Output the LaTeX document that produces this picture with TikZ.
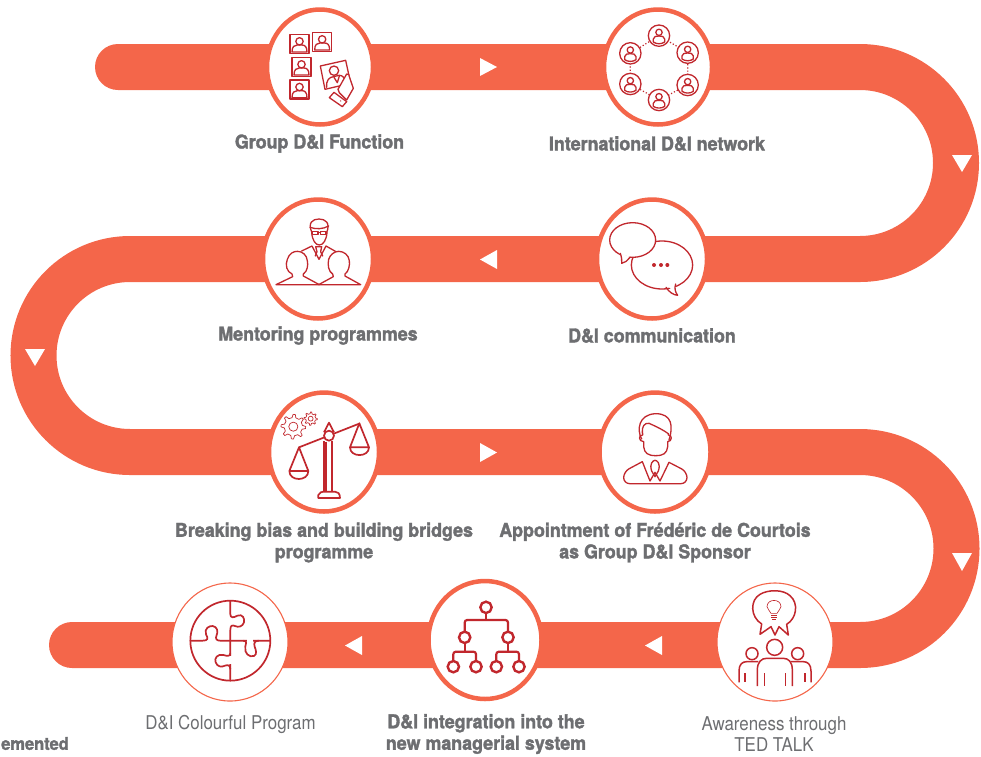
\documentclass[tikz,border=0pt]{standalone}
\usepackage{fontspec}
\usetikzlibrary{shapes.geometric}
\newfontfamily\hvy[FakeStretch=0.94,BoldFeatures={FakeBold=1.8}]{TeX Gyre Heros}
\newfontfamily\lite[FakeStretch=0.89]{TeX Gyre Heros}
\definecolor{band}{HTML}{F4664A}
\definecolor{icon}{HTML}{C1272D}
\definecolor{txt}{HTML}{6D6E71}
\tikzset{
  bandline/.style={draw=band,line width=46pt},
  thick ring/.style={ellipse,draw=band,line width=4.5pt,fill=white,inner sep=0pt},
  thin ring/.style={ellipse,draw=band,line width=1.1pt,fill=white,inner sep=0pt},
  heavy/.style={text=txt,font=\hvy\bfseries\fontsize{19}{21.5}\selectfont,align=center},
  light/.style={text=txt,font=\lite\fontsize{19}{21.5}\selectfont,align=center},
  ic/.style={draw=icon,line width=1.3pt,line join=round,line cap=round},
  icthin/.style={draw=icon,line width=.7pt,line join=round},
  icthick/.style={draw=icon,line width=2.2pt,line join=round,rounded corners=2.5pt},
  zoomed/.style={x=0.3333pt,y=-0.3333pt},
  arrowtip/.style={fill=white,draw=none}
}
\newcommand{\portrait}[2]{%
  \begin{scope}[shift={(#1,#2)}]
  \draw[ic] (0,0) rectangle (57,57);
  \draw[ic] (28.5,21) circle[x radius=11,y radius=11];
  \draw[ic] (6,53) .. controls (6,36) and (14,32) .. (22,32) -- (35,32) .. controls (44,32) and (51,36) .. (51,53) -- cycle;
  \end{scope}}
\newcommand{\netperson}[2]{%
  \begin{scope}[shift={(#1,#2)}]
  \draw[ic,fill=white] (0,0) circle[radius=32];
  \draw[ic] (0,-10) circle[radius=9.5];
  \draw[ic] (-17,19) -- (-17,10) .. controls (-17,2) and (-8,1) .. (0,1) .. controls (8,1) and (17,2) .. (17,10) -- (17,19) .. controls (8,26) and (-8,26) .. (-17,19);
  \end{scope}}
\newcommand{\gearshape}[4]{% x y outer teeth
  \begin{scope}[shift={(#1,#2)}]
  \pgfmathsetmacro{\st}{360/#4}
  \pgfmathsetmacro{\inr}{#3*0.74}
  \draw[icthin] (0:#3)
  \foreach \a in {1,...,#4}{
    -- ({(\a-1)*\st+\st*.2}:#3) -- ({(\a-1)*\st+\st*.36}:\inr) -- ({(\a-1)*\st+\st*.82}:\inr) -- ({\a*\st-\st*.02}:#3)
  } -- cycle;
  \draw[icthin] (0,0) circle[radius=#3*.37];
  \end{scope}}
\newcommand{\orgbox}[2]{\draw[icon,line width=2.4pt,fill=white] (#1,#2) circle[radius=17];}
\begin{document}
\begin{tikzpicture}[x=1pt,y=-1pt]
\useasboundingbox (0,0) rectangle (981,756);
% winding band
\draw[bandline,line cap=round] (118,67) -- (860,67)
  arc[start angle=-90,end angle=90,radius=96] -- (130,259)
  arc[start angle=-90,end angle=-270,radius=96.5] -- (860,452)
  arc[start angle=-90,end angle=90,radius=96.5] -- (72,645);
% direction triangles
\fill[arrowtip] (480,58) -- (497,67) -- (480,76) -- cycle;
\fill[arrowtip] (952,155) -- (972,155) -- (962,172) -- cycle;
\fill[arrowtip] (497,250) -- (480,259.5) -- (497,269) -- cycle;
\fill[arrowtip] (25,349) -- (45,349) -- (35,366) -- cycle;
\fill[arrowtip] (480,443) -- (497,452.5) -- (480,462) -- cycle;
\fill[arrowtip] (952,553) -- (972,553) -- (962,571) -- cycle;
\fill[arrowtip] (662,636) -- (645,645.5) -- (662,655) -- cycle;
\fill[arrowtip] (362,636) -- (345,645.5) -- (362,655) -- cycle;
% rings
\node[thick ring,minimum width=106pt,minimum height=115pt] (fn) at (320,67) {};
\node[thick ring,minimum width=108pt,minimum height=115pt] (net) at (658,67) {};
\node[thick ring,minimum width=110pt,minimum height=119pt] (ment) at (318,259) {};
\node[thick ring,minimum width=110pt,minimum height=119pt] (comm) at (652,259) {};
\node[thick ring,minimum width=110pt,minimum height=119pt] (bias) at (324,452) {};
\node[thick ring,minimum width=111pt,minimum height=119pt] (spons) at (655,452) {};
\node[thin ring,minimum width=116pt,minimum height=118pt] (puz) at (230,642) {};
\node[thick ring,minimum width=113pt,minimum height=118pt] (org) at (485,640) {};
\node[thin ring,minimum width=116pt,minimum height=118pt] (ted) at (775,642) {};
% icon 1
\begin{scope}[shift={(250,0)},zoomed]
\portrait{120}{103}\portrait{188}{97}\portrait{126}{172}\portrait{120}{240}
\draw[ic,fill=white] (211,198) -- (287,181) -- (302,250) -- (225,268) -- cycle;
\draw[ic] (252,212) circle[radius=14];
\draw[ic] (230,262) .. controls (228,240) and (238,232) .. (250,230) -- (268,226) .. controls (278,226) and (283,232) .. (288,250);
\draw[ic] (252,232) -- (262,248) -- (268,228);
\draw[ic,fill=white] (264,268) -- (290,222) .. controls (296,220) and (298,226) .. (298,230) -- (310,265) -- (290,300) -- (268,278) -- cycle;
\draw[ic,fill=white] (238,293) -- (252,277) -- (290,305) -- (277,320) -- cycle;
\fill[icon] (272,303) circle[radius=2];
\end{scope}
% icon 2
\begin{scope}[shift={(590,0)},zoomed]
\draw[icon,line width=1.2pt,dotted] (207,107) -- (293,158) -- (293,255) -- (207,300) -- (121,252) -- (121,160) -- cycle;
\netperson{207}{107}\netperson{293}{158}\netperson{293}{255}\netperson{207}{300}\netperson{121}{252}\netperson{121}{160}
\end{scope}
% icon 3
\begin{scope}[shift={(250,190)},zoomed]
\draw[ic] (186,128) .. controls (172,98) and (188,87) .. (207,87) .. controls (226,87) and (242,98) .. (230,128);
\draw[ic] (180,112) .. controls (198,118) and (218,118) .. (236,108);
\draw[ic] (185,128) .. controls (187,150) and (196,165) .. (208,165) .. controls (220,165) and (229,150) .. (231,128);
\draw[ic] (188,124) rectangle (204,134) (212,124) rectangle (228,134) (204,127) -- (212,127);
\draw[ic] (155,183) -- (186,168) -- (207,208) -- (228,168) -- (258,185);
\draw[ic] (197,170) -- (215,170) -- (212,185) -- (218,198) (197,170) -- (201,185) -- (196,198);
\draw[ic,fill=white] (78,284) -- (128,260) -- (126,252) .. controls (110,245) and (105,225) .. (112,208) .. controls (118,190) and (130,184) .. (142,184) .. controls (158,184) and (170,195) .. (172,212) .. controls (175,225) and (172,245) .. (160,252) -- (160,258) -- (208,284) -- cycle;
\draw[ic,fill=white] (206,284) -- (250,260) -- (248,252) .. controls (236,245) and (232,225) .. (236,208) .. controls (240,195) and (252,184) .. (266,184) .. controls (282,184) and (296,195) .. (298,212) .. controls (300,225) and (296,245) .. (285,252) -- (285,258) -- (332,284) -- cycle;
\end{scope}
% icon 4
\begin{scope}[shift={(585,190)},zoomed]
\draw[ic,fill=white] (231,225) ellipse[x radius=92,y radius=72];
\fill[white] (245,285) -- (277,315) -- (270,280) -- cycle;
\draw[ic] (243,292) .. controls (252,306) and (265,315) .. (278,316) .. controls (270,305) and (268,295) .. (272,282);
\draw[ic,fill=white] (143,150) ellipse[x radius=69,y radius=52];
\fill[white] (104,190) -- (112,220) -- (135,200) -- cycle;
\draw[ic] (106,190) .. controls (110,202) and (111,212) .. (110,220) .. controls (120,218) and (128,212) .. (134,203);
\fill[icon] (207,225) circle[radius=6] (228,225) circle[radius=6] (247,225) circle[radius=6];
\end{scope}
% icon 5
\begin{scope}[shift={(255,385)},zoomed]
\gearshape{115}{125}{37}{8}
\gearshape{167}{101}{20}{8}
\draw[icon,line width=1.7pt,line join=round] (132,187) -- (315,115);
\draw[icon,line width=1.7pt,line join=round,fill=white] (207,142) -- (222,113) -- (237,142);
\draw[icon,line width=1.7pt,fill=white] (222,152) circle[radius=15];
\draw[icon,line width=1.7pt] (207,168) -- (207,320) (214,170) -- (214,320) (232,168) -- (232,320);
\draw[icon,line width=1.7pt,line join=round] (190,339) -- (190,330) .. controls (195,322) and (200,320) .. (205,320) -- (240,320) .. controls (248,320) and (255,325) .. (255,339) -- cycle;
\draw[icon,line width=1.7pt,line join=round] (103,258) -- (132,187) -- (160,258) .. controls (160,290) and (103,290) .. (103,258) -- (160,258);
\draw[icon,line width=1.7pt,line join=round] (285,187) -- (313,115) -- (342,187) .. controls (342,218) and (285,218) .. (285,187) -- (342,187);
\end{scope}
% icon 6
\begin{scope}[shift={(585,385)},zoomed]
\draw[ic] (170,162) .. controls (155,135) and (160,88) .. (212,86) .. controls (262,86) and (265,125) .. (252,165);
\draw[ic] (172,145) .. controls (170,125) and (178,113) .. (192,115) .. controls (215,125) and (235,135) .. (250,146);
\draw[ic] (173,145) -- (173,150) .. controls (160,148) and (160,170) .. (176,170) -- (176,185) .. controls (178,205) and (190,212) .. (212,212) .. controls (235,212) and (246,205) .. (248,185) -- (248,170) .. controls (262,170) and (262,148) .. (250,150) -- (250,146);
\draw[ic,rounded corners=6pt] (172,230) -- (116,260) -- (116,296) -- (306,296) -- (306,260) -- (252,232);
\draw[ic] (172,230) -- (195,288) -- (210,262) -- (225,288) -- (252,232);
\draw[ic] (200,258) .. controls (192,235) and (205,226) .. (210,226) .. controls (216,226) and (228,235) .. (220,258) -- (210,275) -- cycle;
\end{scope}
% icon 7
\begin{scope}[shift={(160,575)},zoomed]
\draw[icon,line width=1.7pt] (211,197) circle[radius=120];
\draw[icon,line width=1.7pt,line join=round]
 (211,77) -- (211,118) .. controls (211,130) and (222,128) .. (232,122) .. controls (248,115) and (255,132) .. (252,142) .. controls (248,155) and (235,158) .. (225,153) .. controls (217,150) and (211,150) .. (211,165) -- (211,317);
\draw[icon,line width=1.7pt,line join=round]
 (91,197) -- (128,197) .. controls (145,197) and (145,190) .. (138,178) .. controls (132,160) and (148,152) .. (158,153) .. controls (172,155) and (175,170) .. (170,180) .. controls (165,192) and (170,197) .. (180,197) -- (331,197);
\draw[white,line width=2.5pt] (262,197) -- (280,197);
\draw[white,line width=2.5pt] (211,244) -- (211,268);
\draw[icon,line width=1.7pt,line join=round]
 (250,197) .. controls (262,197) and (258,208) .. (256,215) .. controls (252,235) and (268,248) .. (282,243) .. controls (292,238) and (288,225) .. (284,215) .. controls (280,203) and (286,197) .. (296,197);
\draw[icon,line width=1.7pt,line join=round]
 (211,235) .. controls (211,245) and (200,243) .. (190,240) .. controls (172,236) and (162,250) .. (167,262) .. controls (172,276) and (185,277) .. (195,272) .. controls (205,268) and (211,272) .. (211,283);
\end{scope}
% icon 8
\begin{scope}[shift={(420,575)},zoomed]
\draw[icthick] (198,97) -- (198,135);
\draw[icthick] (134,187) -- (134,135) -- (264,135) -- (264,187);
\draw[icthick] (100,275) -- (100,230) -- (168,230) -- (168,275);
\draw[icthick] (134,187) -- (134,230);
\draw[icthick] (229,275) -- (229,230) -- (297,230) -- (297,275);
\draw[icthick] (264,187) -- (264,230);
\orgbox{198}{97}\orgbox{134}{187}\orgbox{264}{187}\orgbox{100}{275}\orgbox{168}{275}\orgbox{229}{275}\orgbox{297}{275}
\end{scope}
% icon 9
\begin{scope}[shift={(705,575)},zoomed]
\draw[icon,line width=1.5pt,line join=round] (170,147) .. controls (135,125) and (135,75) .. (165,58) .. controls (190,43) and (235,43) .. (255,62) .. controls (282,85) and (275,130) .. (245,148) -- (250,180) -- (222,155) -- (210,180) -- (198,155) -- (165,178) -- cycle;
\draw[icon,line width=.6pt] (198,115) .. controls (196,105) and (186,105) .. (186,95) .. controls (186,70) and (228,70) .. (228,95) .. controls (228,105) and (218,105) .. (216,115) -- cycle;
\draw[icon,line width=.6pt] (198,121) -- (216,121) (199,127) -- (215,127) (202,133) -- (212,133);
\draw[icon,line width=1.5pt] (209,217) circle[radius=24] (141,236) circle[radius=18] (278,236) circle[radius=18];
\draw[icon,line width=1.5pt,line join=round] (157,333) -- (157,285) .. controls (157,260) and (170,250) .. (185,250) -- (235,250) .. controls (250,250) and (262,260) .. (262,285) -- (262,333);
\draw[icon,line width=1.5pt] (178,295) -- (178,333) (241,295) -- (241,333);
\draw[icon,line width=1.5pt,line join=round] (102,322) -- (102,288) .. controls (102,268) and (112,260) .. (125,260) -- (160,260);
\draw[icon,line width=1.5pt,line join=round] (318,322) -- (318,288) .. controls (318,268) and (308,260) .. (295,260) -- (258,260);
\draw[icon,line width=1.5pt] (120,295) -- (120,322) (300,295) -- (300,322);
\end{scope}
% labels
\node[heavy] (l1) at (319.5,143.5) {Group D\&I Function};
\node[heavy] (l2) at (657,143.5) {International D\&I network};
\node[heavy] (l3) at (318,335.5) {Mentoring programmes};
\node[heavy] (l4) at (652,335.5) {D\&I communication};
\node[heavy] (l5) at (324,542.5) {Breaking bias and building bridges\\programme};
\node[heavy] (l6) at (655,542.5) {Appointment of Frédéric de Courtois\\as Group D\&I Sponsor};
\node[light] (l7) at (230.5,724) {D\&I Colourful Program};
\node[heavy] (l8) at (486,734) {D\&I integration into the\\new managerial system};
\node[light] (l9) at (774,734) {Awareness through\\TED TALK};
\node[heavy,anchor=east,inner sep=0pt,font=\hvy\bfseries\fontsize{17.5}{20}\selectfont] (l10) at (69,743.5) {emented};
\end{tikzpicture}
\end{document}
